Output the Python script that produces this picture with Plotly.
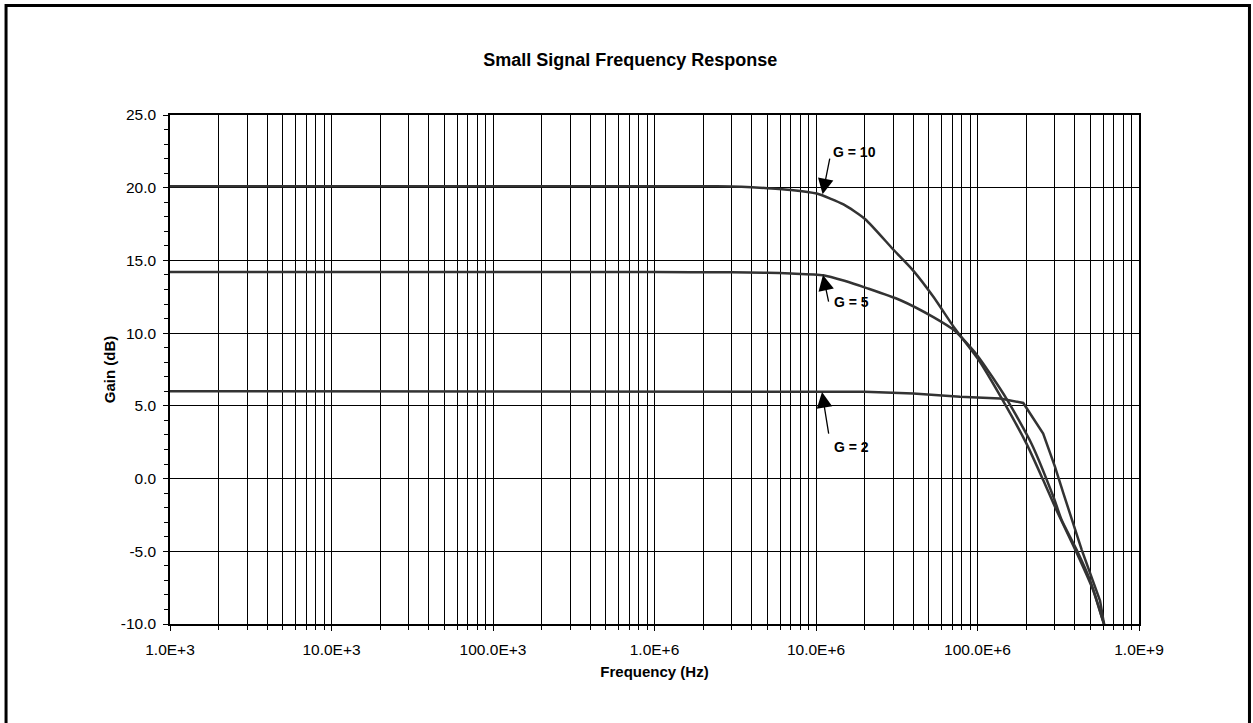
"""Small signal frequency response chart (Plotly)."""

import plotly.graph_objects as go

# G = 10 curve
g10_freq = [1e3, 1e4, 1e5, 1e6, 2e6, 3e6, 4e6, 5e6, 7e6, 1.01e7, 1.48e7, 2.01e7,
            3.01e7, 4.0e7, 5.33e7, 7.26e7, 1.01e8, 1.38e8, 2.01e8, 2.55e8,
            3.09e8, 4.11e8, 5.21e8, 6.01e8, 6.1e8]
g10_gain = [20.1, 20.1, 20.1, 20.1, 20.1, 20.08, 20.03, 19.97, 19.85, 19.6, 18.85, 17.85,
            15.75, 14.3, 12.5, 10.3, 8.2, 5.7, 2.4, -0.1,
            -2.2, -5.1, -7.7, -9.85, -10.0]

# G = 5 curve
g5_freq = [1e3, 1e4, 1e5, 1e6, 3e6, 5e6, 7e6, 1.11e7, 1.5e7, 2.06e7, 3.31e7,
           5.33e7, 7.26e7, 1.0e8, 1.51e8, 2.16e8, 2.95e8, 3.32e8, 4.11e8,
           4.98e8, 6.07e8]
g5_gain = [14.2, 14.2, 14.2, 14.2, 14.18, 14.15, 14.1, 13.98, 13.6, 13.1, 12.28,
           11.1, 10.15, 8.45, 5.5, 2.4, -1.25, -2.85, -4.9,
           -7.0, -10.0]

# G = 2 curve
g2_freq = [1e3, 1e4, 1e5, 1e6, 1e7, 2e7, 4e7, 7.8e7, 1.38e8, 1.92e8,
           2.55e8, 3.02e8, 3.4e8, 4.42e8, 5.74e8, 6.07e8]
g2_gain = [6.0, 6.0, 6.0, 6.0, 6.0, 5.97, 5.85, 5.62, 5.5, 5.2,
           3.1, 0.8, -1.0, -4.9, -8.4, -10.0]

x_tickvals = [1e3, 1e4, 1e5, 1e6, 1e7, 1e8, 1e9]
x_ticktext = ["1.0E+3", "10.0E+3", "100.0E+3", "1.0E+6", "10.0E+6", "100.0E+6", "1.0E+9"]
y_tickvals = [-10, -5, 0, 5, 10, 15, 20, 25]
y_ticktext = ["-10.0", "-5.0", "0.0", "5.0", "10.0", "15.0", "20.0", "25.0"]

# label text, arrow head (log10 f, dB), arrow tail (log10 f, dB), text centre (log10 f, dB)
labels = [
    ("G = 10", 7.041, 19.55, 7.087, 22.11, 7.241, 22.46),
    ("G = 5", 7.043, 14.0, 7.080, 12.07, 7.217, 12.14),
    ("G = 2", 7.037, 5.95, 7.080, 2.99, 7.217, 2.17),
]

FONT = "Liberation Sans, Arial, sans-serif"
LINE = "#333333"

minor_vals = [m * 10 ** d for d in range(3, 9) for m in range(2, 10)]

fig = go.Figure()
for freq, gain, name, shape in [(g10_freq, g10_gain, "G = 10", "spline"),
                                (g5_freq, g5_gain, "G = 5", "spline"),
                                (g2_freq, g2_gain, "G = 2", "linear")]:
    fig.add_trace(
        go.Scatter(
            x=freq,
            y=gain,
            mode="lines",
            name=name,
            line={"color": LINE, "width": 2.5, "shape": shape, "smoothing": 0.6},
        )
    )

for text, hx, hy, ax, ay, tx, ty in labels:
    # arrow from label to the curve
    fig.add_annotation(
        x=hx, y=hy, ax=ax, ay=ay,
        xref="x", yref="y", axref="x", ayref="y",
        text="", showarrow=True,
        arrowhead=2, arrowsize=2.4, arrowwidth=1.3, arrowcolor="black",
        standoff=0,
    )
    fig.add_annotation(
        x=tx, y=ty, xref="x", yref="y", text=f"<b>{text}</b>",
        showarrow=False, font={"size": 14, "color": "black", "family": FONT},
    )

# outer frame around the whole chart
fig.add_shape(
    type="rect", xref="paper", yref="paper",
    x0=-0.1692, x1=1.114, y0=-0.25, y1=1.2151,
    line={"color": "black", "width": 3},
)

fig.update_layout(
    width=1253,
    height=723,
    paper_bgcolor="white",
    plot_bgcolor="white",
    showlegend=False,
    margin={"l": 170, "r": 114, "t": 115, "b": 99},
    font={"family": FONT, "color": "black", "size": 15},
    title={
        "text": "<b>Small Signal Frequency Response</b>",
        "x": 0.503, "xanchor": "center",
        "y": 1 - 60 / 723, "yanchor": "middle",
        "font": {"size": 18, "family": FONT, "color": "black"},
    },
    xaxis={
        "type": "log",
        "range": [3, 9],
        "tickvals": x_tickvals,
        "ticktext": x_ticktext,
        "ticks": "outside",
        "ticklen": 5,
        "tickcolor": "black",
        "ticklabelstandoff": 6,
        "showgrid": True,
        "gridcolor": "black",
        "gridwidth": 1,
        "showline": True,
        "linecolor": "black",
        "linewidth": 1.5,
        "mirror": True,
        "zeroline": False,
        "tickfont": {"size": 15.5},
        "title": {"text": "<b>Frequency (Hz)</b>", "font": {"size": 15}, "standoff": 9},
        "minor": {
            "tickvals": minor_vals,
            "ticks": "outside",
            "ticklen": 4,
            "tickcolor": "black",
            "showgrid": True,
            "gridcolor": "black",
            "gridwidth": 1,
        },
    },
    yaxis={
        "range": [-10, 25],
        "tickvals": y_tickvals,
        "ticktext": y_ticktext,
        "ticks": "outside",
        "ticklen": 5,
        "tickcolor": "black",
        "ticklabelstandoff": 4,
        "showgrid": True,
        "gridcolor": "black",
        "gridwidth": 1,
        "showline": True,
        "linecolor": "black",
        "linewidth": 1.5,
        "mirror": True,
        "zeroline": False,
        "tickfont": {"size": 15.5},
        "title": {"text": "<b>Gain (dB)</b>", "font": {"size": 15}, "standoff": 2},
        "minor": {
            "dtick": 1,
            "ticks": "outside",
            "ticklen": 4,
            "tickcolor": "black",
            "showgrid": False,
        },
    },
)

fig.write_html(
    "out.html",
    config={"displayModeBar": False},
    post_script="document.body.style.margin = '0px';",
)
